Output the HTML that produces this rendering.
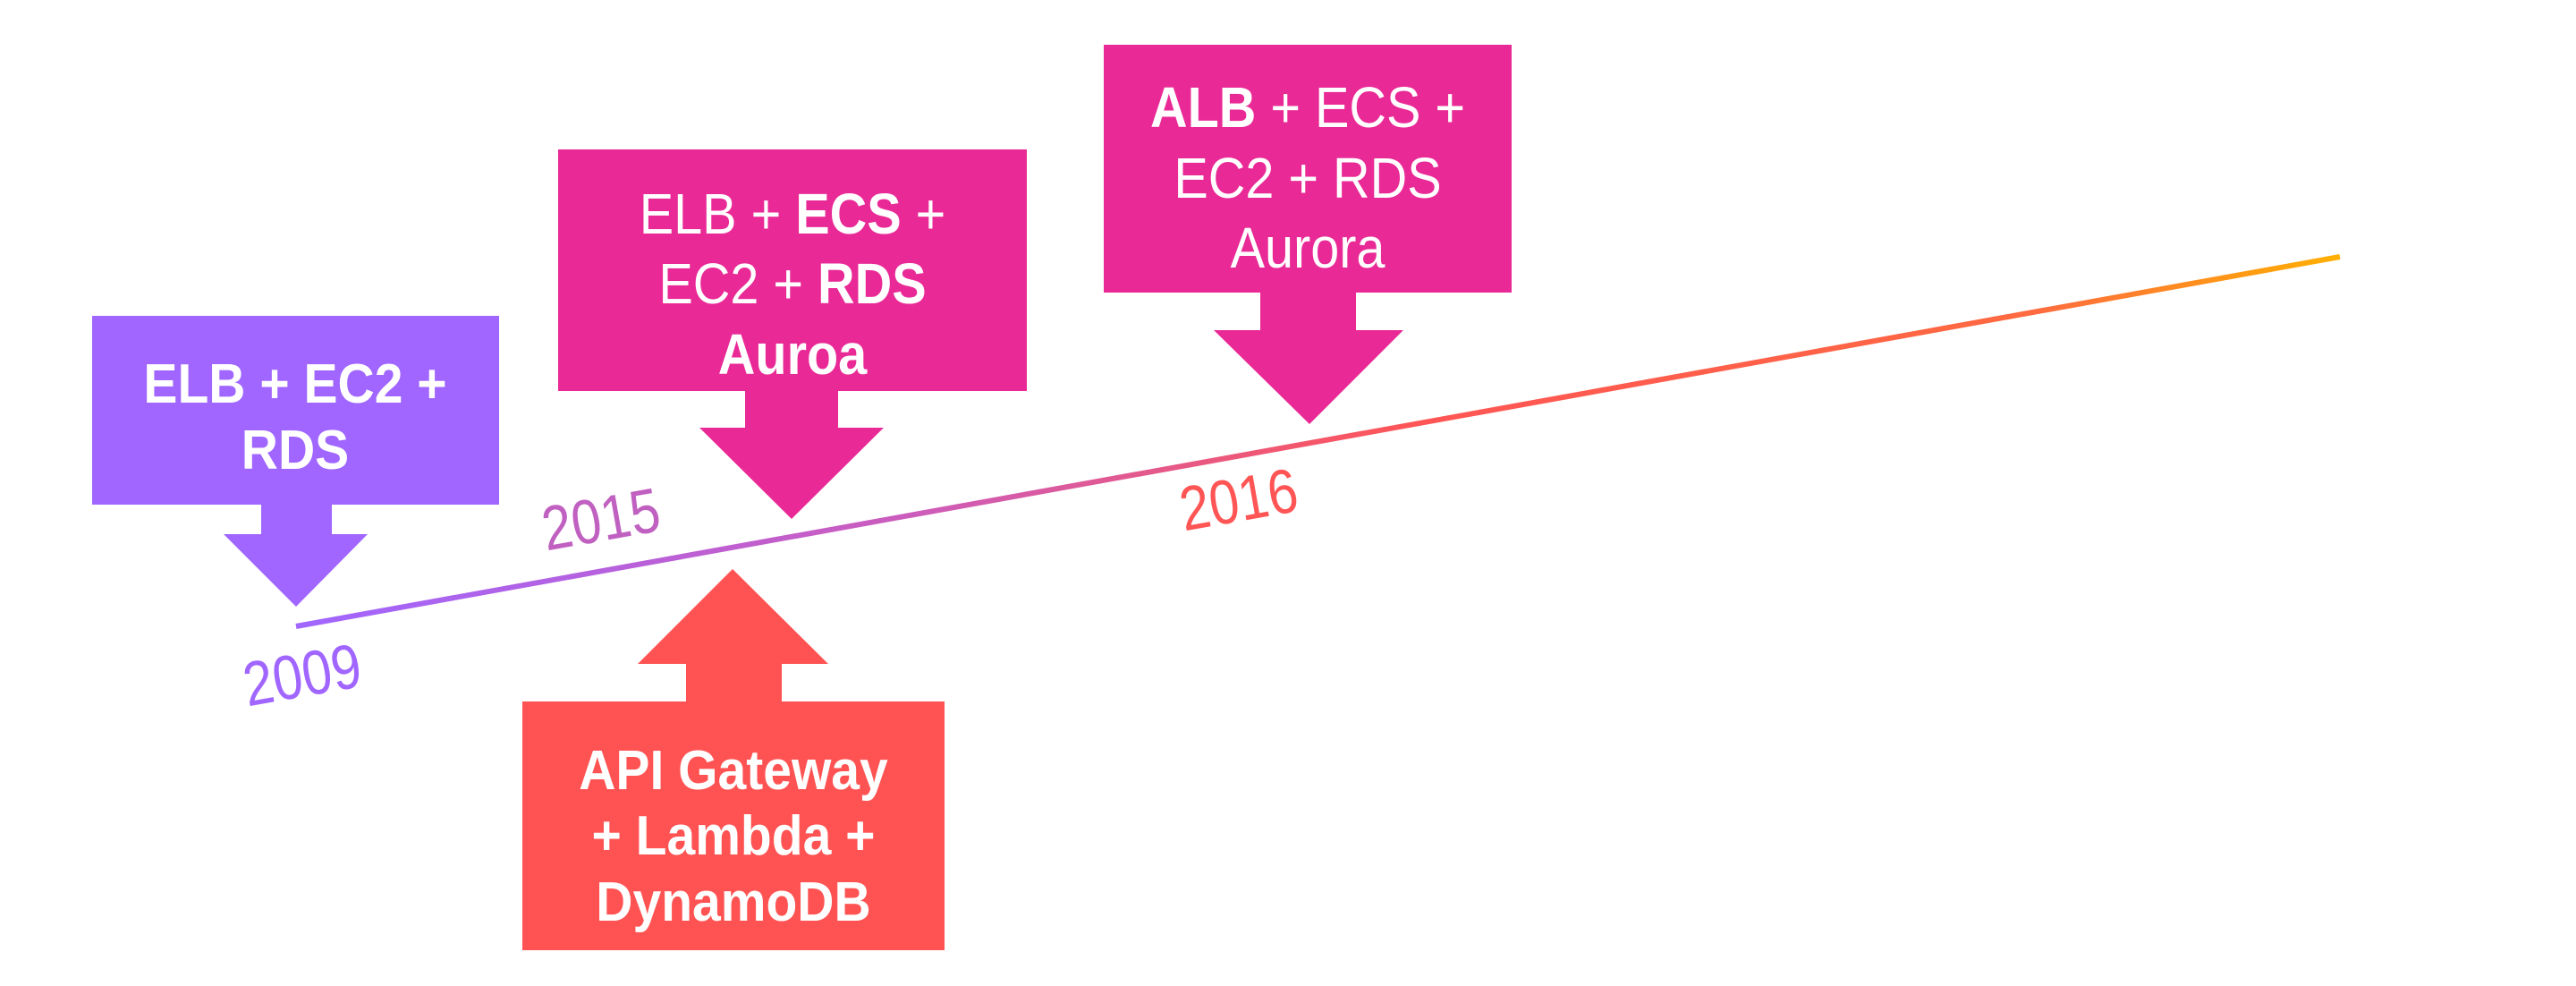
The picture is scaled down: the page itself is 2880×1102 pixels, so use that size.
<!DOCTYPE html>
<html><head><meta charset="utf-8"><style>html,body{margin:0;padding:0;background:#fff}svg{display:block}</style></head>
<body>
<svg width="2880" height="1102" viewBox="0 0 2880 1102" xmlns="http://www.w3.org/2000/svg" font-family="'Liberation Sans', sans-serif">
<defs>
<linearGradient id="g" gradientUnits="userSpaceOnUse" x1="331" y1="700" x2="2616" y2="287">
<stop offset="0" stop-color="#a066ff"/>
<stop offset="0.3" stop-color="#cc5cbc"/>
<stop offset="0.55" stop-color="#ff5555"/>
<stop offset="0.85" stop-color="#ff6a40"/>
<stop offset="1" stop-color="#ffb000"/>
</linearGradient>
</defs>
<line x1="331" y1="700" x2="2616" y2="287" stroke="url(#g)" stroke-width="6"/>

<rect x="103" y="353" width="455" height="211" fill="#a066ff"/>
<polygon points="292,564 371,564 371,597 411,597 331,678 250,597 292,597" fill="#a066ff"/>
<g fill="#fff" font-size="62" text-anchor="middle" font-weight="bold">
<text transform="translate(330,450) scale(0.92,1)">ELB + EC2 +</text>
<text transform="translate(330,524) scale(0.92,1)">RDS</text>
</g>

<rect x="624" y="167" width="524" height="270" fill="#e92a96"/>
<polygon points="833,437 937,437 937,478 988,478 885,580 782,478 833,478" fill="#e92a96"/>
<g fill="#fff" font-size="64" text-anchor="middle">
<text transform="translate(886,261) scale(0.9,1)">ELB + <tspan font-weight="bold">ECS</tspan> +</text>
<text transform="translate(886,339) scale(0.9,1)">EC2 + <tspan font-weight="bold">RDS</tspan></text>
<text transform="translate(886,418) scale(0.9,1)" font-weight="bold">Auroa</text>
</g>

<rect x="1234" y="50" width="456" height="277" fill="#e92a96"/>
<polygon points="1409,327 1516,327 1516,369 1569,369 1464,474 1357,369 1409,369" fill="#e92a96"/>
<g fill="#fff" font-size="64" text-anchor="middle">
<text transform="translate(1462,142) scale(0.9,1)"><tspan font-weight="bold">ALB</tspan> + ECS +</text>
<text transform="translate(1462,221) scale(0.9,1)">EC2 + RDS</text>
<text transform="translate(1462,299) scale(0.9,1)">Aurora</text>
</g>

<rect x="584" y="784" width="472" height="278" fill="#ff5353"/>
<polygon points="767,784 874,784 874,742 926,742 819,636 713,742 767,742" fill="#ff5353"/>
<g fill="#fff" font-size="62" text-anchor="middle" font-weight="bold">
<text transform="translate(820,882) scale(0.92,1)">API Gateway</text>
<text transform="translate(820,955) scale(0.92,1)">+ Lambda +</text>
<text transform="translate(820,1029) scale(0.92,1)">DynamoDB</text>
</g>

<g font-size="70" text-anchor="middle">
<text transform="translate(342,778) rotate(-10) scale(0.85,1)" fill="#a066ff">2009</text>
<text transform="translate(676,604) rotate(-10) scale(0.85,1)" fill="#c060c0">2015</text>
<text transform="translate(1389,582) rotate(-10) scale(0.85,1)" fill="#ff5555">2016</text>
</g>
</svg>
</body></html>
